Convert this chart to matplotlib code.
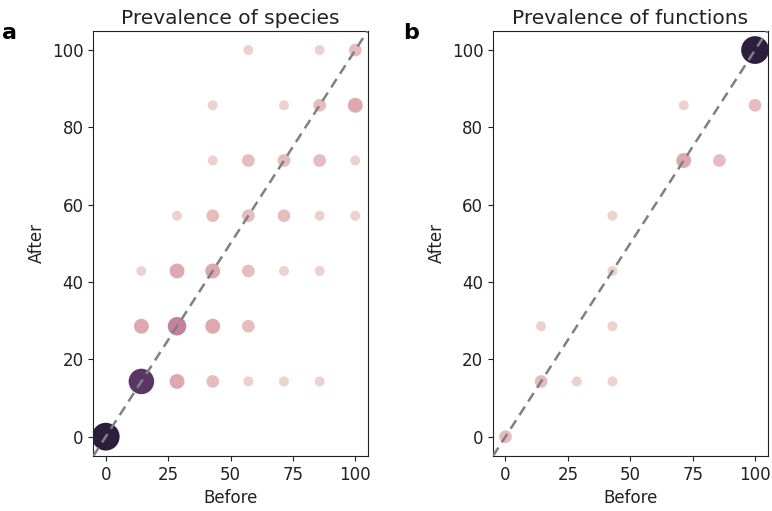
import numpy as np
import matplotlib
matplotlib.use("Agg")
import matplotlib.pyplot as plt
import seaborn as sns

# Prevalence levels (n = 7 samples -> steps of 100/7)
step = 100 / 7

# Panel a: species (before index, after index, count)
a_before_idx = [0, 1, 2, 3, 4, 5, 6,
                1, 2, 3, 4,
                1, 2, 3, 4, 5, 6,
                2, 3, 4, 5, 6, 7,
                3, 4, 5, 6, 7,
                3, 5, 6, 7,
                4, 6, 7]
a_after_idx = [0, 1, 1, 1, 1, 1, 1,
               2, 2, 2, 2,
               3, 3, 3, 3, 3, 3,
               4, 4, 4, 4, 4, 4,
               5, 5, 5, 5, 5,
               6, 6, 6, 6,
               7, 7, 7]
a_count = [12, 10, 3, 2, 1, 1, 1,
           3, 5, 3, 2,
           1, 3, 3, 2, 1, 1,
           1, 2, 2, 2, 1, 1,
           1, 2, 2, 2, 1,
           1, 1, 2, 3,
           1, 1, 2]

# Panel b: functions
b_before_idx = [0, 1, 1, 2, 3, 3, 3, 3, 5, 5, 6, 7, 7]
b_after_idx = [0, 1, 2, 1, 1, 2, 3, 4, 5, 6, 5, 6, 7]
b_count = [2, 2, 1, 1, 1, 1, 1, 1, 3, 1, 2, 2, 12]

titles = ["Prevalence of species", "Prevalence of functions"]
panel_labels = ["a", "b"]
x_ticks = [0, 25, 50, 75, 100]
y_ticks = [0, 20, 40, 60, 80, 100]

cmap = sns.cubehelix_palette(as_cmap=True)

fig = plt.figure(figsize=(7.72, 5.11), dpi=100)
ax_a = fig.add_axes([0.1208, 0.1076, 0.3556, 0.8323])
ax_b = fig.add_axes([0.6386, 0.1076, 0.3556, 0.8323])

smin, smax = 52, 400

panels = [
    (ax_a, a_before_idx, a_after_idx, a_count),
    (ax_b, b_before_idx, b_after_idx, b_count),
]
for k, (ax, bi, ai, cnt) in enumerate(panels):
    x = np.array(bi) * step
    y = np.array(ai) * step
    c = np.array(cnt, dtype=float)
    norm = (c - c.min()) / (c.max() - c.min())
    sizes = smin + norm * (smax - smin)
    ax.scatter(x, y, s=sizes, c=cmap(norm), linewidths=0, zorder=2)
    ax.plot([-5, 105], [-5, 105], linestyle="--", color="gray", linewidth=1.8,
            zorder=3, dashes=(4, 2.5))
    ax.set_xlim(-5, 105)
    ax.set_ylim(-5, 105)
    ax.set_xticks(x_ticks)
    ax.set_yticks(y_ticks)
    ax.tick_params(labelsize=12, color="#222222", labelcolor="#222222")
    ax.set_xlabel("Before", fontsize=12, color="#222222")
    ax.set_ylabel("After", fontsize=12, color="#222222")
    ax.set_title(titles[k], fontsize=14.5, color="#222222", pad=5)
    for sp in ax.spines.values():
        sp.set_color("#222222")

fig.text(0.002, 0.915, panel_labels[0], fontsize=16, fontweight="bold", va="bottom")
fig.text(0.522, 0.915, panel_labels[1], fontsize=16, fontweight="bold", va="bottom")

fig.savefig("out.png", dpi=100)
